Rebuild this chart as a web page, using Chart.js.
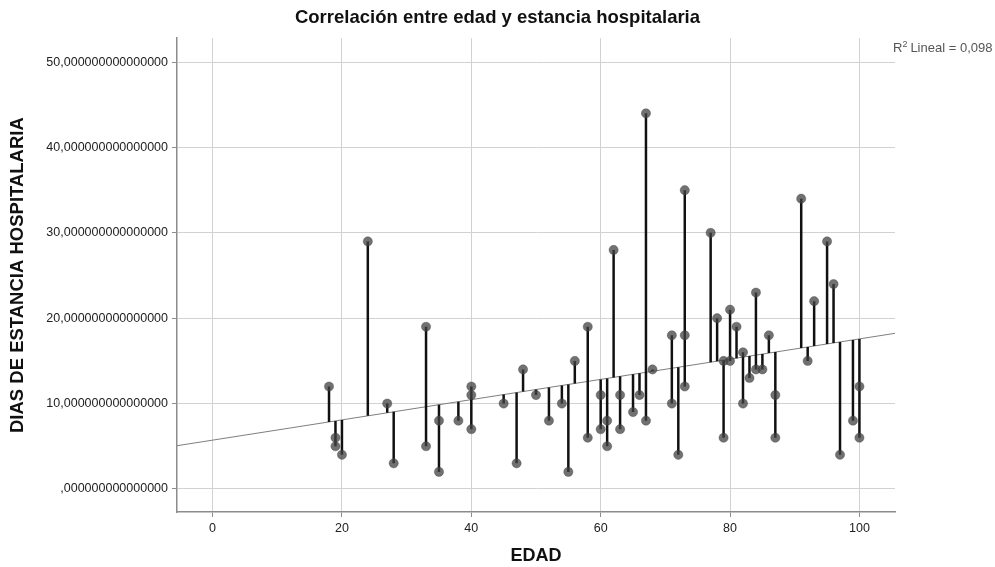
<!DOCTYPE html>
<html>
<head>
<meta charset="utf-8">
<script src="https://cdn.jsdelivr.net/npm/chart.js@4.4.1/dist/chart.umd.min.js"></script>
<style>
html,body{margin:0;padding:0;background:#ffffff;}
#wrap{width:995px;height:567px;}
</style>
</head>
<body>
<div id="wrap"><canvas id="c" width="995" height="567"></canvas></div>
<script>
// ---- Data ----
const edad = [18,19,19,20,24,27,28,33,33,35,35,38,40,40,40,45,47,48,50,52,54,55,56,58,58,60,60,61,61,62,63,63,65,66,67,67,68,71,71,72,73,73,73,77,78,79,79,80,80,81,82,82,83,84,84,85,86,87,87,91,92,93,95,96,97,99,100,100];
const dias = [12,6,5,4,29,10,3,19,5,8,2,8,12,11,7,10,3,14,11,8,10,2,15,19,6,11,7,8,5,28,11,7,9,11,44,8,14,18,10,4,35,18,12,30,20,15,6,21,15,19,16,10,13,23,14,14,18,11,6,34,15,22,29,24,4,8,12,6];
const xTicks = [0,20,40,60,80,100];
const yTicks = [0,10,20,30,40,50];
const yTickLabels = [",000000000000000","10,000000000000000","20,000000000000000","30,000000000000000","40,000000000000000","50,000000000000000"];
const xRange = [-5.5, 105.5];
const yRange = [-2.7, 52.8];
const titleText = "Correlación entre edad y estancia hospitalaria";
const xTitle = "EDAD";
const yTitle = "DIAS DE ESTANCIA HOSPITALARIA";
const r2Text = "Lineal = 0,098";

// ---- Least squares fit from the data ----
const n = edad.length;
const mx = edad.reduce((a,b)=>a+b,0)/n;
const my = dias.reduce((a,b)=>a+b,0)/n;
let sxy = 0, sxx = 0;
for (let i=0;i<n;i++){ sxy += (edad[i]-mx)*(dias[i]-my); sxx += (edad[i]-mx)*(edad[i]-mx); }
const slope = sxy/sxx;
const intercept = my - slope*mx;
const fit = x => intercept + slope*x;

const points = edad.map((x,i)=>({x:x, y:dias[i]}));
const drops = [];
edad.forEach((x,i)=>{ drops.push({x:x,y:dias[i]}); drops.push({x:x,y:fit(x)}); drops.push({x:x,y:null}); });
const fitLine = [{x:xRange[0],y:fit(xRange[0])},{x:xRange[1],y:fit(xRange[1])}];

const FONT = "'Liberation Sans', Arial, sans-serif";

const r2Plugin = {
  id:'r2label',
  afterDraw(chart){
    const ctx = chart.ctx, a = chart.chartArea;
    ctx.save();
    ctx.fillStyle = '#555555';
    ctx.textBaseline = 'alphabetic';
    ctx.textAlign = 'left';
    let x = a.right - 2, y = a.top + 14;
    ctx.font = '13px ' + FONT;
    ctx.fillText('R', x, y);
    x += ctx.measureText('R').width;
    ctx.font = '9px ' + FONT;
    ctx.fillText('2', x, y - 5);
    x += ctx.measureText('2').width + 3;
    ctx.font = '13px ' + FONT;
    ctx.fillText(r2Text, x, y);
    ctx.restore();
  }
};

new Chart(document.getElementById('c'), {
  type:'scatter',
  data:{
    datasets:[
      {label:'puntos', data:points, order:0, showLine:false,
       pointRadius:4.6, pointHoverRadius:4.6, pointBackgroundColor:'rgba(65,65,65,0.75)', pointBorderColor:'rgba(65,65,65,0.75)', pointBorderWidth:0.5},
      {label:'residuos', data:drops, order:1, showLine:true, spanGaps:false, pointRadius:0,
       borderColor:'#111111', borderWidth:2.5, tension:0},
      {label:'ajuste', data:fitLine, order:2, showLine:true, pointRadius:0,
       borderColor:'#7f7f7f', borderWidth:1, tension:0}
    ]
  },
  options:{
    responsive:false, devicePixelRatio:1, animation:false,
    layout:{padding:{left:0,right:0,top:0,bottom:0}},
    plugins:{
      legend:{display:false}, tooltip:{enabled:false},
      title:{display:true, text:titleText, color:'#111', font:{family:FONT, size:18.5, weight:'bold'}, padding:{top:7,bottom:9}}
    },
    scales:{
      x:{
        type:'linear', min:xRange[0], max:xRange[1],
        afterBuildTicks(s){ s.ticks = xTicks.map(v=>({value:v})); },
        afterFit(s){ s.height = 55; },
        grid:{color:'#d2d2d2', lineWidth:1, drawTicks:true, tickLength:5, tickColor:'#8c8c8c'},
        border:{display:true, color:'#8c8c8c', width:1.5},
        ticks:{color:'#222', font:{family:FONT, size:12.5}, padding:4, maxRotation:0, autoSkip:false},
        title:{display:true, text:xTitle, color:'#111', font:{family:FONT, size:18, weight:'bold'}, padding:{top:0,bottom:0}}
      },
      y:{
        type:'linear', position:'left', min:yRange[0], max:yRange[1],
        afterBuildTicks(s){ s.ticks = yTicks.map(v=>({value:v})); },
        afterFit(s){ s.width = 177; },
        grid:{color:'#d2d2d2', lineWidth:1, drawTicks:true, tickLength:5, tickColor:'#8c8c8c'},
        border:{display:true, color:'#8c8c8c', width:1.5},
        ticks:{color:'#222', font:{family:FONT, size:12.5}, padding:4, autoSkip:false,
          callback:(v)=>{ const i = yTicks.indexOf(v); return i>=0 ? yTickLabels[i] : ''; }},
        title:{display:true, text:yTitle, color:'#111', font:{family:FONT, size:18.5, weight:'bold'}, padding:{top:7,bottom:0}}
      },
      yR:{
        type:'linear', position:'right', display:true,
        afterFit(s){ s.width = 100; },
        grid:{display:false, drawTicks:false}, border:{display:false},
        ticks:{display:false}, title:{display:false}
      }
    }
  },
  plugins:[r2Plugin]
});
</script>
</body>
</html>
